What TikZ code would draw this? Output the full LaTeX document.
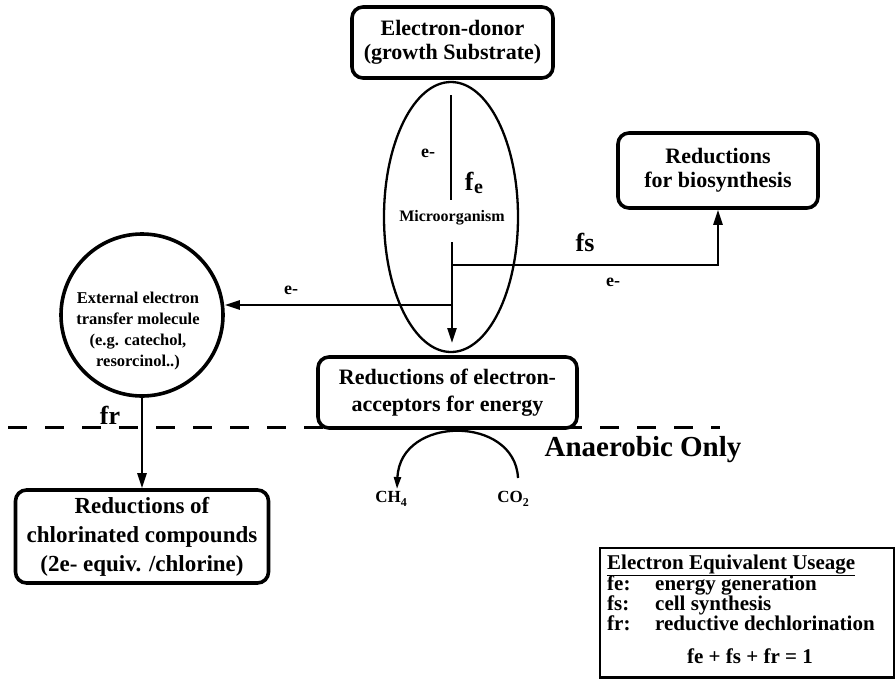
\documentclass[tikz,border=0pt]{standalone}
\usepackage{fontspec}
\setmainfont{Liberation Serif}
\usetikzlibrary{shapes.geometric,arrows.meta,calc}
\begin{document}
\begin{tikzpicture}[x=1pt,y=-1pt,
  box/.style={draw, line width=3.6pt, rounded corners=11pt, fill=white, align=center, inner sep=0pt,
              font=\bfseries\fontsize{22}{24}\selectfont},
  wire/.style={line width=2.5pt},
  arr/.style={line width=2.5pt, -{Triangle[length=15pt,width=9pt]}},
  lbl/.style={inner sep=0pt, font=\bfseries\fontsize{18}{18}\selectfont},
  flbl/.style={inner sep=0pt, font=\bfseries\fontsize{26}{26}\selectfont},
  legtxt/.style={inner sep=0pt, anchor=base west, font=\bfseries\fontsize{21}{21}\selectfont},
  chem/.style={inner sep=0pt, font=\bfseries\fontsize{17}{17}\selectfont}]
\useasboundingbox (0,0) rectangle (895,678);
\fill[white] (0,0) rectangle (895,678);

% dashed separator (behind boxes)
\coordinate (dl) at (8,427);
\coordinate (dr) at (720,427);
\draw[line width=3pt, dash pattern=on 19pt off 18pt] (dl) -- (dr);

% microorganism
\node[ellipse, draw, line width=2.3pt, minimum width=134pt, minimum height=270pt, inner sep=0pt] (cell) at (451,217) {};
\node[inner sep=0pt, font=\bfseries\fontsize{16}{16}\selectfont] (micro) at (452,218) {Microorganism};

% boxes
\node[box, minimum width=201pt, minimum height=71pt] (donor) at (452.5,42.5) {Electron-donor\\(growth Substrate)};
\node[box, minimum width=259pt, minimum height=71pt, font=\bfseries\fontsize{22}{27}\selectfont] (acc) at (447.5,392.5) {Reductions of electron-\\acceptors for energy};
\node[box, minimum width=200pt, minimum height=75pt] (bio) at (718,170.5) {Reductions\\for biosynthesis};
\node[box, minimum width=253pt, minimum height=93pt, font=\bfseries\fontsize{23}{29}\selectfont] (chl) at (142,536.5) {Reductions of\\chlorinated compounds\\(2e- equiv. /chlorine)};

% external electron transfer molecule
\node[circle, draw, line width=3.6pt, minimum size=162pt, inner sep=0pt, fill=white] (ext) at (142,315) {};
\node[inner sep=0pt, align=center, font=\bfseries\fontsize{16.5}{21}\selectfont] (exttxt) at (138,331) {External electron\\transfer molecule\\(e.g. catechol,\\resorcinol..)};

% flows inside the cell
\coordinate (t1) at (451,95);
\coordinate (t2) at (451,200);
\draw[wire] (t1) -- (t2);
\coordinate (b1) at (452,242);
\coordinate (b2) at (452,343);
\coordinate (jS) at (452,265);
\coordinate (jL) at (452,305);
\draw[arr] (b1) -- (b2);
\draw[arr] (jS) -- (jS -| bio.south) -- (bio.south);
\draw[arr] (jL) -- (jL -| ext.east);
\draw[arr] (ext.south) -- (chl.north);

% labels
\node[lbl] (e1) at (428,153) {e-};
\node[lbl] (e2) at (291,290) {e-};
\node[lbl] (e3) at (613,282) {e-};
\node[flbl] (fe) at (474,183) {f\kern0.5pt\raisebox{-3pt}{\fontsize{20}{20}\selectfont e}};
\node[flbl] (fs) at (585,242) {fs};
\node[flbl] (fr) at (110,415) {fr};

% anaerobic
\node[inner sep=0pt, font=\bfseries\fontsize{29}{29}\selectfont] (anaer) at (643,450) {Anaerobic Only};
\node[chem] (ch4) at (391,499) {CH\raisebox{-4pt}{\fontsize{12}{12}\selectfont 4}};
\node[chem] (co2) at (513,499) {CO\raisebox{-4pt}{\fontsize{12}{12}\selectfont 2}};
\coordinate (aS) at (518,478);
\coordinate (aE) at (397,489);
\draw[line width=2.3pt, -{Triangle[length=12pt,width=7pt]}] (aS) .. controls (515,415) and (400,415) .. (aE);

% legend
\node[draw, line width=1.2pt, minimum width=294pt, minimum height=129pt, inner sep=0pt] (leg) at (747,612.5) {};
\draw[line width=3pt] (leg.south west) -- (leg.south east);
\node[legtxt] (lt) at (607,569) {\underline{Electron Equivalent Useage}};
\node[legtxt] (k1) at (607,590) {fe:};
\node[legtxt] (k2) at (607,610) {fs:};
\node[legtxt] (k3) at (607,630) {fr:};
\node[legtxt] (v1) at (655,590) {energy generation};
\node[legtxt] (v2) at (655,610) {cell synthesis};
\node[legtxt] (v3) at (655,630) {reductive dechlorination};
\node[inner sep=0pt, anchor=base, font=\bfseries\fontsize{21}{21}\selectfont] (sum) at (750,663) {fe + fs + fr = 1};
\end{tikzpicture}
\end{document}
